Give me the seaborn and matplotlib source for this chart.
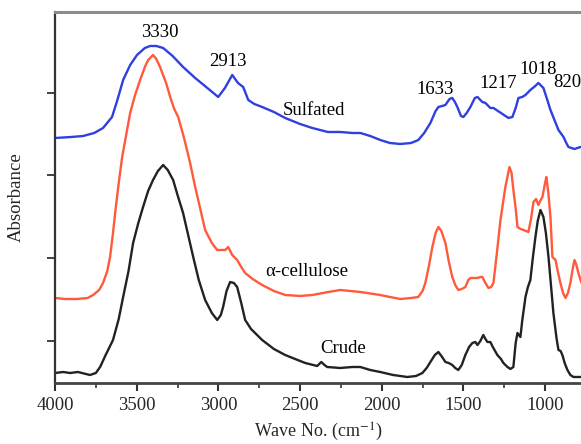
import matplotlib
matplotlib.use("Agg")
import matplotlib.pyplot as plt
import numpy as np
import pandas as pd
import seaborn as sns

# Spectra: wavenumber (cm-1) and absorbance (arbitrary units)
sulfated_wn = [4000, 3900, 3828, 3760, 3706, 3651, 3620, 3583, 3540, 3498, 3450, 3418, 3380, 3338,
               3280, 3216, 3142, 3060, 3001, 2960, 2915, 2880, 2848, 2817, 2780, 2732, 2660, 2591,
               2500, 2425, 2330, 2254, 2180, 2131, 2070, 2009, 1950, 1886, 1820, 1776, 1740, 1702,
               1670, 1653, 1630, 1610, 1585, 1568, 1552, 1537, 1515, 1500, 1480, 1457, 1430, 1414,
               1384, 1365, 1335, 1316, 1270, 1224, 1200, 1180, 1163, 1140, 1120, 1090, 1060, 1041,
               1010, 990, 967, 940, 918, 887, 870, 857, 820, 783]
sulfated_abs = [245, 246, 247, 250, 255, 266, 282, 303, 318, 328, 335, 337, 337, 335,
                327, 316, 305, 294, 286, 295, 308, 300, 296, 283, 279, 276, 271, 265,
                259, 255, 251, 251, 250, 250, 247, 243, 240, 239, 240, 243, 250, 260,
                272, 276, 277, 278, 284, 285, 281, 276, 267, 266, 270, 276, 285, 286,
                281, 280, 275, 275, 270, 265, 266, 275, 285, 286, 288, 293, 297, 300,
                295, 285, 273, 262, 253, 246, 240, 236, 234, 236]

cellulose_wn = [4000, 3940, 3865, 3800, 3767, 3730, 3706, 3680, 3663, 3645, 3632, 3610, 3589, 3560,
                3540, 3510, 3479, 3450, 3430, 3400, 3380, 3357, 3320, 3295, 3270, 3246, 3210, 3173,
                3142, 3112, 3081, 3040, 3007, 2975, 2958, 2940, 2915, 2885, 2860, 2836, 2790, 2732,
                2660, 2591, 2500, 2425, 2327, 2254, 2131, 2009, 1950, 1886, 1820, 1776, 1750, 1733,
                1710, 1690, 1670, 1653, 1635, 1610, 1590, 1568, 1550, 1531, 1510, 1488, 1470, 1457,
                1435, 1414, 1396, 1384, 1365, 1347, 1330, 1316, 1295, 1273, 1243, 1218, 1205, 1194,
                1180, 1169, 1150, 1132, 1102, 1085, 1071, 1055, 1041, 1030, 1016, 1000, 992, 980,
                967, 955, 936, 920, 906, 890, 875, 860, 845, 830, 820, 808, 796, 777]
cellulose_abs = [85, 84, 84, 85, 88, 93, 100, 112, 126, 150, 170, 200, 226, 252,
                 270, 288, 303, 316, 323, 328, 324, 316, 300, 286, 274, 266, 245, 220,
                 196, 175, 153, 140, 133, 133, 133, 136, 128, 123, 116, 110, 104, 98,
                 92, 88, 87, 88, 91, 93, 91, 88, 86, 84, 85, 86, 92, 100,
                 118, 136, 150, 156, 152, 140, 122, 106, 98, 93, 94, 96, 103, 105,
                 105, 105, 106, 106, 100, 95, 96, 100, 130, 163, 196, 216, 210, 193,
                 175, 156, 154, 153, 151, 165, 181, 184, 178, 182, 186, 200, 206, 190,
                 166, 126, 123, 110, 100, 90, 85, 90, 100, 115, 123, 118, 110, 100]

crude_wn = [4000, 3950, 3908, 3860, 3786, 3750, 3724, 3690, 3645, 3610, 3583, 3550, 3522, 3490,
            3461, 3430, 3400, 3370, 3338, 3310, 3277, 3250, 3216, 3185, 3154, 3120, 3081, 3040,
            3007, 2985, 2971, 2950, 2928, 2905, 2885, 2860, 2836, 2800, 2732, 2660, 2591, 2530,
            2468, 2395, 2370, 2350, 2334, 2254, 2180, 2131, 2070, 2009, 1930, 1843, 1790, 1751,
            1725, 1702, 1675, 1653, 1630, 1610, 1590, 1568, 1550, 1531, 1510, 1488, 1465, 1445,
            1427, 1414, 1396, 1378, 1365, 1353, 1335, 1320, 1292, 1270, 1255, 1230, 1212, 1194,
            1180, 1169, 1151, 1140, 1120, 1105, 1090, 1075, 1059, 1045, 1028, 1010, 995, 979,
            965, 949, 930, 918, 905, 894, 880, 863, 845, 826, 777]
crude_abs = [10, 11, 10, 11, 8, 10, 16, 28, 43, 64, 86, 112, 140, 160,
             176, 192, 203, 212, 218, 213, 203, 188, 170, 148, 126, 103, 83, 70,
             63, 68, 76, 92, 101, 100, 96, 80, 63, 54, 43, 34, 28, 24,
             20, 17, 21, 18, 16, 15, 16, 16, 13, 11, 8, 6, 7, 10,
             15, 21, 28, 31, 26, 21, 20, 18, 15, 13, 18, 28, 36, 40,
             41, 38, 42, 48, 44, 41, 41, 36, 28, 24, 20, 16, 14, 16,
             40, 50, 46, 62, 86, 96, 103, 125, 146, 162, 173, 166, 150, 126,
             100, 70, 45, 33, 32, 28, 20, 13, 8, 6, 6]

samples = ['Sulfated', 'α-cellulose', 'Crude']
colors = ['#2f3fe0', '#ff5a3c', '#222222']

# Peak labels (text, wavenumber, absorbance)
peak_labels = ['3330', '2913', '1633', '1217', '1018', '820']
peak_wn = [3357, 2940, 1672, 1286, 1041, 949]
peak_y = [350, 321, 293, 299, 313, 300]
peak_ha = ['center', 'center', 'center', 'center', 'center', 'left']

# Curve names (wavenumber, absorbance of the left edge)
name_wn = [2603, 2713, 2376]
name_y = [272, 111, 34]

df = pd.concat([
    pd.DataFrame({'wn': sulfated_wn, 'abs': sulfated_abs, 'sample': samples[0]}),
    pd.DataFrame({'wn': cellulose_wn, 'abs': cellulose_abs, 'sample': samples[1]}),
    pd.DataFrame({'wn': crude_wn, 'abs': crude_abs, 'sample': samples[2]}),
], ignore_index=True)

sns.set_style('ticks')
plt.rcParams['font.family'] = ['Liberation Serif', 'DejaVu Serif']
plt.rcParams['mathtext.fontset'] = 'stix'

fig = plt.figure(figsize=(5.81, 4.44), dpi=100)
ax = fig.add_axes([0.0947, 0.1374, 0.9053, 0.8356])

sns.lineplot(data=df, x='wn', y='abs', hue='sample', palette=dict(zip(samples, colors)),
             estimator=None, sort=False, legend=False, linewidth=1.7, ax=ax)

# Annotations for peaks and curve names
for txt, x, y, ha in zip(peak_labels, peak_wn, peak_y, peak_ha):
    ax.text(x, y, txt, ha=ha, va='center', fontsize=13.5, color='black')
for txt, x, y in zip(samples, name_wn, name_y):
    ax.text(x, y, txt, ha='left', va='center', fontsize=13.5, color='black')

ax.set_xlim(4000, 780)
ax.set_ylim(0, 371)
ax.set_xticks([4000, 3500, 3000, 2500, 2000, 1500, 1000])
ax.set_xticks(np.arange(3750, 780, -500), minor=True)
ax.set_yticks([42, 125, 208, 290])
ax.set_yticklabels([])
ax.tick_params(axis='x', which='major', length=6, width=1.5, labelsize=13.5, pad=4, color='#333333')
ax.tick_params(axis='x', which='minor', length=3.5, width=1.2, color='#333333')
ax.tick_params(axis='y', length=6, width=1.3, color='#333333')

ax.set_xlabel('Wave No. (cm$^{-1}$)', fontsize=13, labelpad=5)
ax.set_ylabel('Absorbance', fontsize=13.5, labelpad=12)

ax.spines['right'].set_visible(False)
ax.spines['top'].set_color('#8c8c8c')
ax.spines['top'].set_linewidth(2.2)
ax.spines['left'].set_color('#333333')
ax.spines['left'].set_linewidth(1.6)
ax.spines['bottom'].set_color('#444444')
ax.spines['bottom'].set_linewidth(2.0)

fig.savefig('out.png', dpi=100)
